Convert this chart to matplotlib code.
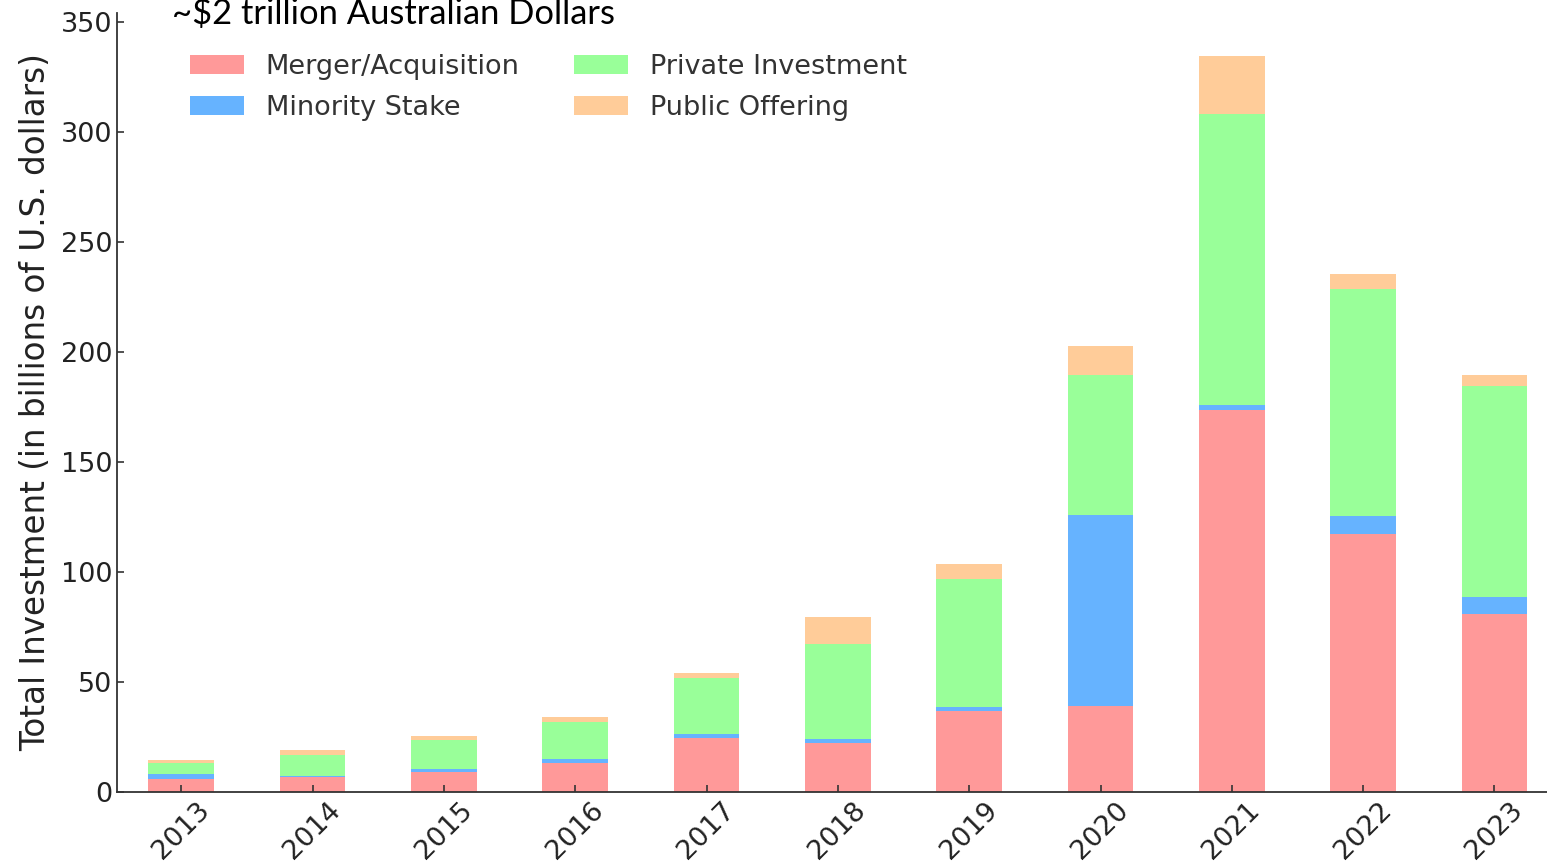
import numpy as np
import matplotlib.pyplot as plt

plt.rcParams['font.family'] = ['DejaVu Sans']

# investment by type, billions of USD
years = ['2013', '2014', '2015', '2016', '2017', '2018', '2019', '2020', '2021', '2022', '2023']
merger = [5.9, 7.0, 9.1, 13.0, 24.7, 22.1, 36.7, 39.1, 173.4, 117.2, 80.9]
minority = [2.3, 0.4, 1.2, 2.0, 1.7, 2.1, 2.1, 86.7, 2.3, 8.4, 7.8]
private = [4.8, 9.3, 13.3, 17.0, 25.6, 43.1, 58.0, 63.8, 132.2, 103.1, 96.0]
public = [1.5, 2.4, 2.0, 2.0, 1.9, 12.4, 6.7, 13.0, 26.4, 6.5, 4.7]

labels = ['Merger/Acquisition', 'Minority Stake', 'Private Investment', 'Public Offering']
colors = ['#ff9999', '#66b3ff', '#99ff99', '#ffcc99']

fig = plt.figure(figsize=(15.47, 8.67), dpi=100)
ax = fig.add_axes([0.0756, 0.0865, 0.9244, 0.8985])

x = np.arange(len(years))
bottom = np.zeros(len(years))
for vals, lab, c in zip([merger, minority, private, public], labels, colors):
    ax.bar(x, vals, 0.5, bottom=bottom, color=c, label=lab)
    bottom += np.array(vals)

ax.set_xlim(-0.49, 10.40)
ax.set_ylim(0, 354)
ax.set_xticks(x)
ax.set_xticklabels(years, rotation=45)
ax.set_yticks(np.arange(0, 351, 50))
ax.tick_params(direction='in', length=5, width=1.2, labelsize=19.5,
               colors='#333333', labelcolor='#222222')
ax.set_ylabel('Total Investment (in billions of U.S. dollars)', fontsize=23.5,
              color='#222222', labelpad=6)

for s in ['top', 'right']:
    ax.spines[s].set_visible(False)
for s in ['left', 'bottom']:
    ax.spines[s].set_color('#333333')
    ax.spines[s].set_linewidth(1.3)

leg = ax.legend(ncol=2, frameon=False, fontsize=19.5, loc='upper left',
                bbox_to_anchor=(0.034, 0.979), labelspacing=0.55)
for t in leg.get_texts():
    t.set_color('#333333')

fig.text(0.111, 1.004, '~$2 trillion Australian Dollars', fontsize=24.8,
         family='Lato', va='top', ha='left', color='black')

fig.savefig('out.png', dpi=100)
